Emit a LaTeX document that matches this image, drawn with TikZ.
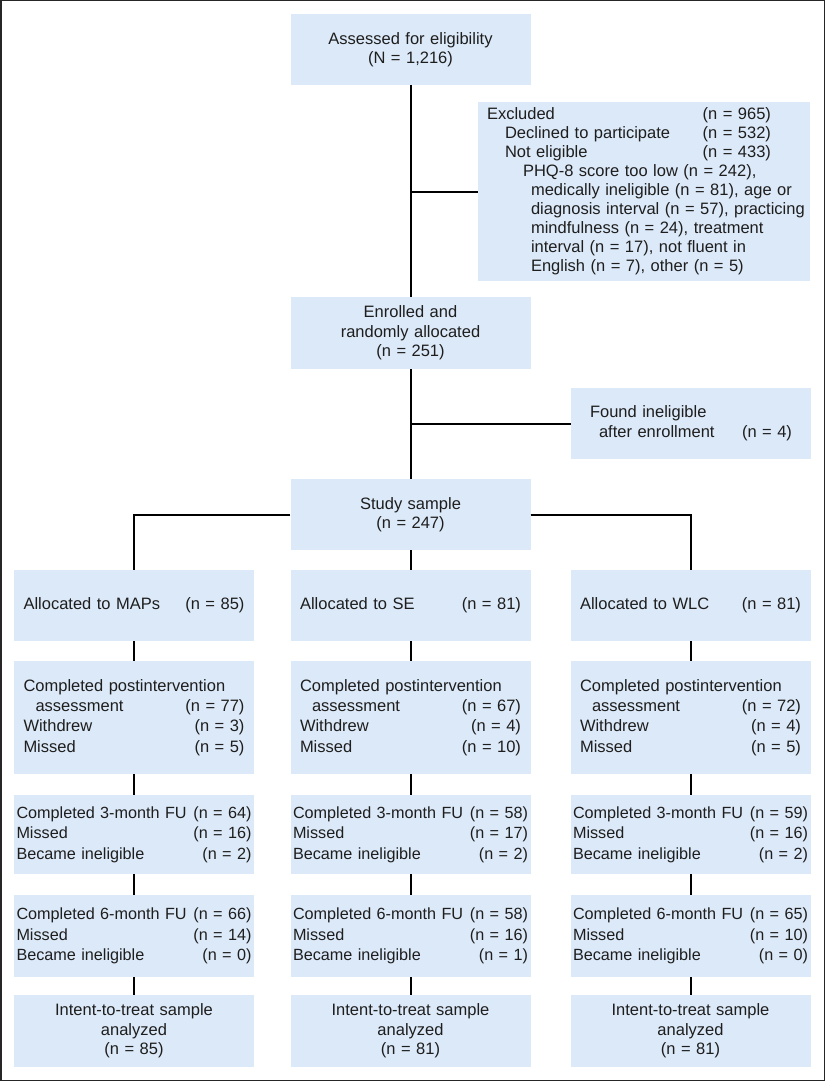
\documentclass[tikz,border=0pt]{standalone}
\usepackage{fontspec}
\setmainfont{Liberation Sans}
\definecolor{boxblue}{RGB}{220,233,248}
\definecolor{inkgrey}{RGB}{30,30,30}

\begin{document}
\begin{tikzpicture}[x=1pt, y=-1pt,
        every node/.style={text=inkgrey},
        flowbox/.style={fill=boxblue, inner ysep=0pt, minimum height=#1},
        centrebox/.style={flowbox=#1, align=center, text width=220pt, inner xsep=10pt,
            font=\fontsize{16.5}{19.5}\selectfont},
        listbox/.style={flowbox=#1, align=left, text width=221pt, inner xsep=9.5pt,
            font=\fontsize{16.5}{20.3}\selectfont},
        widebox/.style={flowbox=#1, align=left, text width=235pt, inner xsep=2.5pt,
            font=\fontsize{16.2}{20.5}\selectfont},
        link/.style={line width=2pt, draw=black}]

    \useasboundingbox (0,0) rectangle (825,1081);
    \draw[line width=1.5pt, black!85] (0.75,0.75) rectangle (824.25,1080.25);

    % enrolment trunk
    \node[centrebox=71pt] (assess) at (410.5,49.5) {Assessed for eligibility\\(N = 1,216)};

    \node[flowbox=179pt, align=left, text width=314pt, inner xsep=9pt,
        font=\fontsize{16.5}{19}\selectfont] (excl) at (644,191.5)
        {\makebox[284pt]{Excluded\hfill(n = 965)}\\
         \makebox[284pt]{\hspace*{18pt}Declined to participate\hfill(n = 532)}\\
         \makebox[284pt]{\hspace*{18pt}Not eligible\hfill(n = 433)}\\
         \mbox{\hspace*{36pt}PHQ-8 score too low (n = 242),}\\
         \mbox{\hspace*{44pt}medically ineligible (n = 81), age or}\\
         \mbox{\hspace*{44pt}diagnosis interval (n = 57), practicing}\\
         \mbox{\hspace*{44pt}mindfulness (n = 24), treatment}\\
         \mbox{\hspace*{44pt}interval (n = 17), not fluent in}\\
         \mbox{\hspace*{44pt}English (n = 7), other (n = 5)}};

    \node[centrebox=72pt] (enrol) at (410.5,333) {Enrolled and\\randomly allocated\\(n = 251)};

    \node[flowbox=71pt, align=left, text width=202pt, inner xsep=19pt,
        font=\fontsize{16.5}{20}\selectfont] (found) at (691,423.5)
        {Found ineligible\\\hspace*{9pt}after enrollment\hfill(n = 4)};

    \node[centrebox=71pt] (study) at (410.5,514.5) {Study sample\\(n = 247)};

    \draw[link] (assess.south) -- (enrol.north);
    \draw[link] (assess.south |- excl.west) -- (excl.west);
    \draw[link] (enrol.south) -- (study.north);
    \draw[link] (enrol.south |- found.west) -- (found.west);

    % three arms
    \foreach \i/\x/\grp/\nall/\npost/\nwd/\nmp/\nthr/\nmt/\nbt/\nsix/\nms/\nbs in
        {1/134/MAPs/85/77/3/5/64/16/2/66/14/0,
         2/410.5/SE/81/67/4/10/58/17/2/58/16/1,
         3/690.5/WLC/81/72/4/5/59/16/2/65/10/0}{
        \node[listbox=71pt] (alloc\i) at (\x,605.5) {Allocated to \grp\hfill(n = \nall)};
        \node[listbox=113pt] (post\i) at (\x,717.5)
            {Completed postintervention\\\hspace*{12pt}assessment\hfill(n = \npost)\\
             Withdrew\hfill(n = \nwd)\\Missed\hfill(n = \nmp)};
        \node[widebox=79pt] (three\i) at (\x,834.5)
            {Completed 3-month FU\hfill\,(n = \nthr)\\Missed\hfill(n = \nmt)\\
             Became ineligible\hfill(n = \nbt)};
        \node[widebox=82pt] (six\i) at (\x,936)
            {Completed 6-month FU\hfill\,(n = \nsix)\\Missed\hfill(n = \nms)\\
             Became ineligible\hfill(n = \nbs)};
        \node[centrebox=72pt] (itt\i) at (\x,1031) {Intent-to-treat sample\\analyzed\\(n = \nall)};

        \draw[link] (alloc\i) -- (post\i);
        \draw[link] (post\i) -- (three\i);
        \draw[link] (three\i) -- (six\i);
        \draw[link] (six\i) -- (itt\i);
    }

    \draw[link] (study.west) -| (alloc1.north);
    \draw[link] (study.south) -- (alloc2.north);
    \draw[link] (study.east) -| (alloc3.north);
\end{tikzpicture}
\end{document}
